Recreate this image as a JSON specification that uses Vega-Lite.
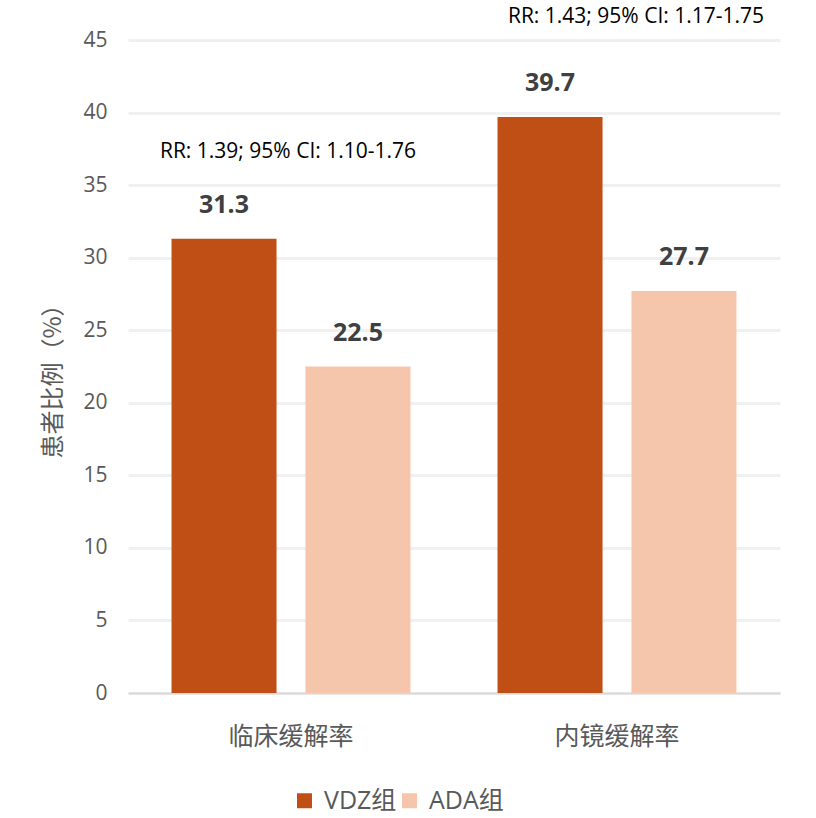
{
  "$schema": "https://vega.github.io/schema/vega-lite/v6.json",
  "autosize": {"type": "none"},
  "width": 652,
  "height": 653,
  "padding": {"left": 128, "top": 40, "right": 36, "bottom": 125},
  "background": "white",
  "config": {
    "view": {"stroke": null},
    "font": "Open Sans, Noto Sans CJK SC"
  },
  "datasets": {
    "bars": [
      {"group": "临床缓解率", "arm": "VDZ组", "pct": 31.3},
      {"group": "临床缓解率", "arm": "ADA组", "pct": 22.5},
      {"group": "内镜缓解率", "arm": "VDZ组", "pct": 39.7},
      {"group": "内镜缓解率", "arm": "ADA组", "pct": 27.7}
    ],
    "notes": [
      {"group": "临床缓解率", "y": 37.3, "label": "RR: 1.39; 95% CI: 1.10-1.76"},
      {"group": "内镜缓解率", "y": 46.6, "label": "RR: 1.43; 95% CI: 1.17-1.75"}
    ]
  },
  "layer": [
    {
      "data": {"name": "bars"},
      "mark": {"type": "bar"},
      "encoding": {
        "x": {
          "field": "group", "type": "nominal", "sort": ["临床缓解率", "内镜缓解率"],
          "scale": {"paddingInner": 0, "paddingOuter": 0},
          "axis": {
            "title": null, "labelAngle": 0, "ticks": false, "labelPadding": 31,
            "labelFontSize": 25, "labelColor": "#595959", "labelFont": "Noto Sans CJK SC",
            "domainColor": "#D9D9D9", "domainWidth": 2, "grid": false
          }
        },
        "xOffset": {
          "field": "arm", "type": "nominal", "sort": ["VDZ组", "ADA组"],
          "scale": {"paddingInner": 0.216, "paddingOuter": 0.325}
        },
        "y": {
          "field": "pct", "type": "quantitative",
          "scale": {"domain": [0, 45], "nice": false},
          "axis": {
            "values": [0, 5, 10, 15, 20, 25, 30, 35, 40, 45],
            "title": "患者比例（%）",
            "titleFont": "Noto Sans CJK SC", "titleFontSize": 24, "titleFontWeight": "normal",
            "titleColor": "#595959", "titleX": -75, "titleY": 335,
            "titleAlign": "center", "titleBaseline": "middle", "titleAngle": -90,
            "labelFontSize": 21, "labelColor": "#595959", "labelPadding": 21,
            "ticks": false, "domain": false,
            "gridColor": "#F0F0F0", "gridWidth": 3
          }
        },
        "color": {
          "field": "arm", "type": "nominal", "sort": ["VDZ组", "ADA组"],
          "scale": {"domain": ["VDZ组", "ADA组"], "range": ["#C04F15", "#F5C6AC"]},
          "legend": {
            "title": null, "orient": "none", "direction": "horizontal",
            "legendX": 164, "legendY": 748,
            "symbolType": "square", "symbolSize": 225, "symbolStrokeWidth": 0,
            "labelFontSize": 25, "labelColor": "#595959", "labelFont": "Open Sans, Noto Sans CJK SC",
            "columnPadding": -4, "labelOffset": 7
          }
        }
      }
    },
    {
      "data": {"name": "bars"},
      "mark": {"type": "text", "baseline": "middle", "dy": -34, "fontSize": 25, "fontWeight": "bold", "color": "#404040"},
      "encoding": {
        "x": {"field": "group", "type": "nominal", "sort": ["临床缓解率", "内镜缓解率"]},
        "xOffset": {"field": "arm", "type": "nominal", "sort": ["VDZ组", "ADA组"]},
        "y": {"field": "pct", "type": "quantitative"},
        "text": {"field": "pct", "type": "quantitative", "format": ".1f"}
      }
    },
    {
      "data": {"name": "notes"},
      "transform": [{"filter": "datum.group === '临床缓解率'"}],
      "mark": {"type": "text", "baseline": "middle", "dx": -3, "fontSize": 21, "color": "#000000"},
      "encoding": {
        "x": {"field": "group", "type": "nominal", "sort": ["临床缓解率", "内镜缓解率"]},
        "y": {"field": "y", "type": "quantitative"},
        "text": {"field": "label"}
      }
    },
    {
      "data": {"name": "notes"},
      "transform": [{"filter": "datum.group === '内镜缓解率'"}],
      "mark": {"type": "text", "baseline": "middle", "dx": 19, "fontSize": 21, "color": "#000000"},
      "encoding": {
        "x": {"field": "group", "type": "nominal", "sort": ["临床缓解率", "内镜缓解率"]},
        "y": {"field": "y", "type": "quantitative"},
        "text": {"field": "label"}
      }
    }
  ]
}
